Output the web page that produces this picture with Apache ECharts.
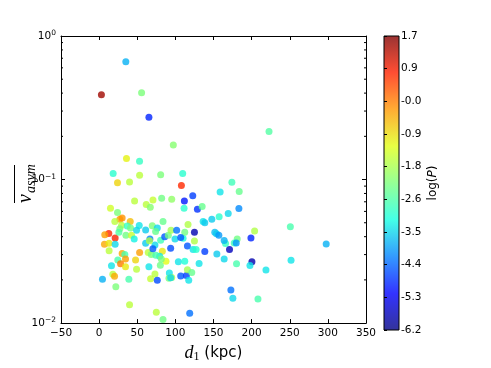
<!DOCTYPE html>
<html>
<head>
<meta charset="utf-8">
<script src="https://cdn.jsdelivr.net/npm/echarts@6/dist/echarts.min.js"></script>
<style>
html, body { margin: 0; padding: 0; background: #fff; }
#chart { width: 491px; height: 368px; }
</style>
</head>
<body>
<div id="chart"></div>
<script>
// d1 (kpc)
const distKpc = [
  35.0, 3.0, 55.7, 65.3, 97.3, 35.9, 53.0, 222.8, 18.4, 53.1,
  80.7, 109.6, 24.1, 39.9, 107.9, 158.7, 46.5, 70.6, 61.8, 67.1,
  82.0, 95.2, 111.8, 122.8, 111.4, 128.9, 135.1, 14.9, 24.1, 27.2,
  30.2, 20.6, 40.8, 29.4, 27.2, 36.8, 41.2, 52.6, 69.7, 76.3,
  83.8, 116.6, 61.0, 12.7, 21.0, 7.4, 25.9, 35.1, 42.5, 49.1,
  46.0, 74.1, 66.6, 80.7, 86.0, 90.8, 94.3, 101.7, 99.5, 110.1,
  112.3, 107.0, 125.0, 125.0, 115.8, 123.2, 127.2, 138.6, 154.4, 151.7,
  153.9, 157.0, 136.4, 138.6, 147.8, 157.4, 7.0, 13.1, 21.0, 13.1,
  30.2, 33.7, 24.5, 34.6, 28.1, 53.1, 47.8, 64.4, 68.4, 61.0,
  73.2, 82.9, 79.4, 74.5, 87.7, 81.6, 80.3, 65.3, 103.9, 112.3,
  16.2, 34.6, 49.1, 18.0, 20.2, 4.4, 39.0, 21.9, 67.5, 73.2,
  76.3, 92.1, 91.6, 95.2, 107.0, 114.5, 115.8, 121.5, 117.5, 131.1,
  39.9, 75.0, 83.8, 118.8, 93.8, 93.8, 70.5, 66.0, 174.1, 183.7,
  183.3, 169.3, 203.9, 250.8, 199.1, 181.1, 177.2, 179.8, 165.8, 164.0,
  171.0, 297.8, 164.0, 180.2, 200.4, 197.8, 251.7, 218.8, 172.8, 175.4,
  208.3
];
// overline v_asym
const vAsym = [
  0.662, 0.389, 0.403, 0.272, 0.174, 0.140, 0.134, 0.216, 0.110, 0.107,
  0.108, 0.110, 0.095, 0.096, 0.091, 0.082, 0.071, 0.072, 0.067, 0.064,
  0.074, 0.073, 0.071, 0.077, 0.063, 0.062, 0.065, 0.063, 0.059, 0.053,
  0.054, 0.051, 0.051, 0.048, 0.0455, 0.0475, 0.046, 0.0478, 0.0476, 0.046,
  0.051, 0.0487, 0.0445, 0.0421, 0.0391, 0.0412, 0.043, 0.041, 0.041, 0.0443,
  0.0385, 0.0435, 0.0386, 0.0377, 0.040, 0.041, 0.0443, 0.0443, 0.0386, 0.039,
  0.043, 0.0395, 0.043, 0.0373, 0.0345, 0.0325, 0.0325, 0.0315, 0.0303, 0.043,
  0.042, 0.041, 0.051, 0.050, 0.053, 0.055, 0.0354, 0.036, 0.0354, 0.0319,
  0.0305, 0.030, 0.0275, 0.028, 0.0259, 0.031, 0.0275, 0.031, 0.030, 0.036,
  0.035, 0.0317, 0.0292, 0.0297, 0.027, 0.028, 0.0253, 0.0247, 0.0267, 0.027,
  0.0251, 0.0247, 0.0237, 0.0219, 0.0212, 0.0202, 0.0202, 0.0179, 0.0204, 0.022,
  0.0199, 0.0223, 0.0205, 0.0208, 0.0213, 0.0215, 0.0235, 0.0225, 0.0199, 0.026,
  0.0134, 0.0119, 0.0106, 0.0117, 0.0332, 0.0207, 0.0329, 0.0374, 0.0956, 0.0825,
  0.0628, 0.058, 0.0438, 0.0469, 0.0391, 0.0385, 0.0361, 0.0362, 0.0359, 0.0376,
  0.0325, 0.0356, 0.028, 0.0259, 0.0268, 0.0252, 0.0274, 0.0234, 0.0170, 0.0149,
  0.0147
];
// log(P), colour
const logP = [
  -3.8, 1.5, -2.2, -4.9, -2.1, -1.1, -2.9, -2.6, -3.0, -1.6,
  -2.2, -3.0, -0.8, -1.6, 0.7, -3.4, -1.6, -1.5, -1.6, -2.1,
  -2.3, -2.0, -5.0, -4.7, -3.0, -4.8, -2.4, -1.4, -2.2, -0.3,
  -0.2, -1.6, -0.6, -1.6, -2.2, -2.9, -2.3, -3.4, -2.2, -3.5,
  -2.4, -1.7, -3.6, 0.7, 0.8, -0.3, -2.6, -2.3, -1.5, -3.5,
  -3.3, -2.4, -4.2, -2.8, -4.5, -2.3, -1.8, -4.3, -3.5, -3.2,
  -2.3, -4.5, -5.8, -1.7, -4.5, -3.4, -3.0, -4.7, -3.6, -3.7,
  -3.6, -4.0, -3.4, -3.6, -3.6, -3.0, -0.4, -1.0, -3.5, -1.6,
  -0.4, -2.7, -2.7, -0.3, 0.0, -0.3, -0.8, -1.6, -2.2, -3.6,
  -3.5, -1.0, -3.4, -2.7, -1.2, -2.2, -2.3, -3.4, -3.4, -3.1,
  -3.4, -1.0, -1.6, -1.6, -0.4, -3.8, -2.7, -2.2, -1.5, -1.6,
  -4.6, -3.4, -2.2, -1.8, -4.5, -4.7, -1.8, -2.4, -3.4, -3.4,
  -1.6, -1.6, -2.3, -4.3, -4.6, -3.5, -4.5, -1.7, -2.8, -2.4,
  -4.1, -3.5, -1.7, -2.7, -4.9, -2.3, -2.8, -4.0, -2.9, -3.8,
  -5.7, -3.8, -3.5, -2.7, -5.8, -3.4, -3.4, -3.4, -4.3, -3.5,
  -2.7
];

const xMin = -50, xMax = 350, xStep = 50;
const yMin = 0.01, yMax = 1;
const yMinorTicks = [0.02, 0.03, 0.04, 0.05, 0.06, 0.07, 0.08, 0.09,
                     0.2, 0.3, 0.4, 0.5, 0.6, 0.7, 0.8, 0.9];
const pMin = -6.163, pMax = 1.748;
const cbarLabels = ['-6.2', '-5.3', '-4.4', '-3.5', '-2.6', '-1.8', '-0.9', '-0.0', '0.9', '1.7'];
// jet
const jetColors = ['#000080', '#0000ff', '#0080ff', '#15ffe2', '#7bff7b',
                   '#e2ff15', '#ff9700', '#ff2100', '#800000'];

function rgba(hex, a) {
  const n = parseInt(hex.slice(1), 16);
  return 'rgba(' + (n >> 16) + ',' + ((n >> 8) & 255) + ',' + (n & 255) + ',' + a + ')';
}

const cbarGradient = new echarts.graphic.LinearGradient(0, 1, 0, 0,
  jetColors.map((c, i) => ({ offset: i / (jetColors.length - 1), color: rgba(c, 0.8) })));

const axisBlack = { show: true, onZero: false, lineStyle: { color: '#000', width: 1 } };
const serif = 'Liberation Serif';

const myChart = echarts.init(document.getElementById('chart'));

const option = {
  animation: false,
  textStyle: { fontFamily: 'DejaVu Sans' },
  grid: [
    { left: 61, top: 36, width: 305, height: 294 },
    { left: 384, top: 36, width: 15, height: 294, show: true,
      backgroundColor: cbarGradient, borderColor: '#000', borderWidth: 1 }
  ],
  visualMap: {
    type: 'continuous',
    show: false,
    seriesIndex: 0,
    dimension: 2,
    min: pMin,
    max: pMax,
    inRange: { color: jetColors }
  },
  xAxis: [
    {
      type: 'value', gridIndex: 0, min: xMin, max: xMax, interval: xStep,
      axisLine: axisBlack,
      axisTick: { inside: true, length: 4, lineStyle: { color: '#000' } },
      axisLabel: {
        color: '#000', fontSize: 10.5, margin: 5,
        formatter: v => (v < 0 ? '\u2212' + Math.abs(v) : String(v))
      },
      splitLine: { show: false },
      name: '{d|d}{s|1}{t| (kpc)}',
      nameLocation: 'middle',
      nameGap: 16,
      nameTextStyle: {
        color: '#000',
        rich: {
          d: { fontFamily: serif, fontStyle: 'italic', fontSize: 18, lineHeight: 20, verticalAlign: 'middle', color: '#000' },
          s: { fontFamily: serif, fontSize: 12, lineHeight: 12, verticalAlign: 'bottom', color: '#000' },
          t: { fontFamily: 'DejaVu Sans', fontSize: 15, lineHeight: 20, verticalAlign: 'middle', color: '#000' }
        }
      }
    },
    {
      type: 'value', gridIndex: 0, position: 'top', min: xMin, max: xMax, interval: xStep,
      axisLine: axisBlack,
      axisTick: { inside: true, length: 4, lineStyle: { color: '#000' } },
      axisLabel: { show: false },
      splitLine: { show: false }
    },
    { type: 'value', gridIndex: 1, min: 0, max: 1, show: false }
  ],
  yAxis: [
    {
      type: 'log', gridIndex: 0, logBase: 10, min: yMin, max: yMax,
      axisLine: axisBlack,
      axisTick: { inside: true, length: 4, lineStyle: { color: '#000' } },
      axisLabel: {
        margin: 5,
        formatter: v => '{b|10}{e|' + String(Math.round(Math.log10(v))).replace('-', '\u2212') + '}',
        rich: {
          b: { fontSize: 10.5, lineHeight: 14, verticalAlign: 'middle', color: '#000' },
          e: { fontSize: 7.5, lineHeight: 8, verticalAlign: 'top', color: '#000' }
        }
      },
      splitLine: { show: false }
    },
    {
      type: 'log', gridIndex: 0, logBase: 10, min: yMin, max: yMax, position: 'right',
      axisLine: axisBlack,
      axisTick: { inside: true, length: 4, lineStyle: { color: '#000' } },
      axisLabel: { show: false },
      splitLine: { show: false }
    },
    {
      type: 'value', gridIndex: 1, min: 0, max: cbarLabels.length - 1, interval: 1,
      position: 'right',
      axisLine: { show: false },
      axisTick: { inside: false, length: 3, lineStyle: { color: '#000' } },
      axisLabel: { color: '#000', fontSize: 10.5, margin: 2, formatter: v => cbarLabels[v] },
      splitLine: { show: false },
      name: 'log({i|P})',
      nameLocation: 'middle',
      nameRotate: 90,
      nameGap: 28,
      nameTextStyle: {
        color: '#000', fontSize: 12,
        rich: { i: { fontStyle: 'italic', fontSize: 12, color: '#000' } }
      }
    }
  ],
  graphic: [
    {
      type: 'group', x: 26, y: 184, rotation: Math.PI / 2, silent: true,
      children: [
        { type: 'text', x: -19, y: 0,
          style: { text: 'v', fontFamily: serif, fontStyle: 'italic', fontSize: 20, fill: '#000',
                   textAlign: 'left', textVerticalAlign: 'middle' } },
        { type: 'text', x: -9, y: 5,
          style: { text: 'asym', fontFamily: serif, fontStyle: 'italic', fontSize: 14, fill: '#000',
                   textAlign: 'left', textVerticalAlign: 'middle' } },
        { type: 'line', shape: { x1: -19, y1: -11.5, x2: 19, y2: -11.5 },
          style: { stroke: '#000', lineWidth: 1 } }
      ]
    }
  ],
  series: [
    {
      type: 'scatter',
      xAxisIndex: 0, yAxisIndex: 0,
      symbolSize: 7,
      itemStyle: { opacity: 0.8 },
      data: distKpc.map((x, i) => [x, vAsym[i], logP[i]])
    },
    {
      // minor log ticks on left and right
      type: 'custom',
      xAxisIndex: 0, yAxisIndex: 0,
      silent: true,
      z: 5,
      data: yMinorTicks.map(v => [xMin, v]),
      renderItem(params, api) {
        const y = api.coord([api.value(0), api.value(1)])[1];
        const cs = params.coordSys;
        return {
          type: 'group',
          children: [
            { type: 'line', shape: { x1: cs.x, y1: y, x2: cs.x + 2, y2: y }, style: { stroke: '#000', lineWidth: 1 } },
            { type: 'line', shape: { x1: cs.x + cs.width - 2, y1: y, x2: cs.x + cs.width, y2: y }, style: { stroke: '#000', lineWidth: 1 } }
          ]
        };
      }
    }
  ]
};

myChart.setOption(option);
</script>
</body>
</html>
